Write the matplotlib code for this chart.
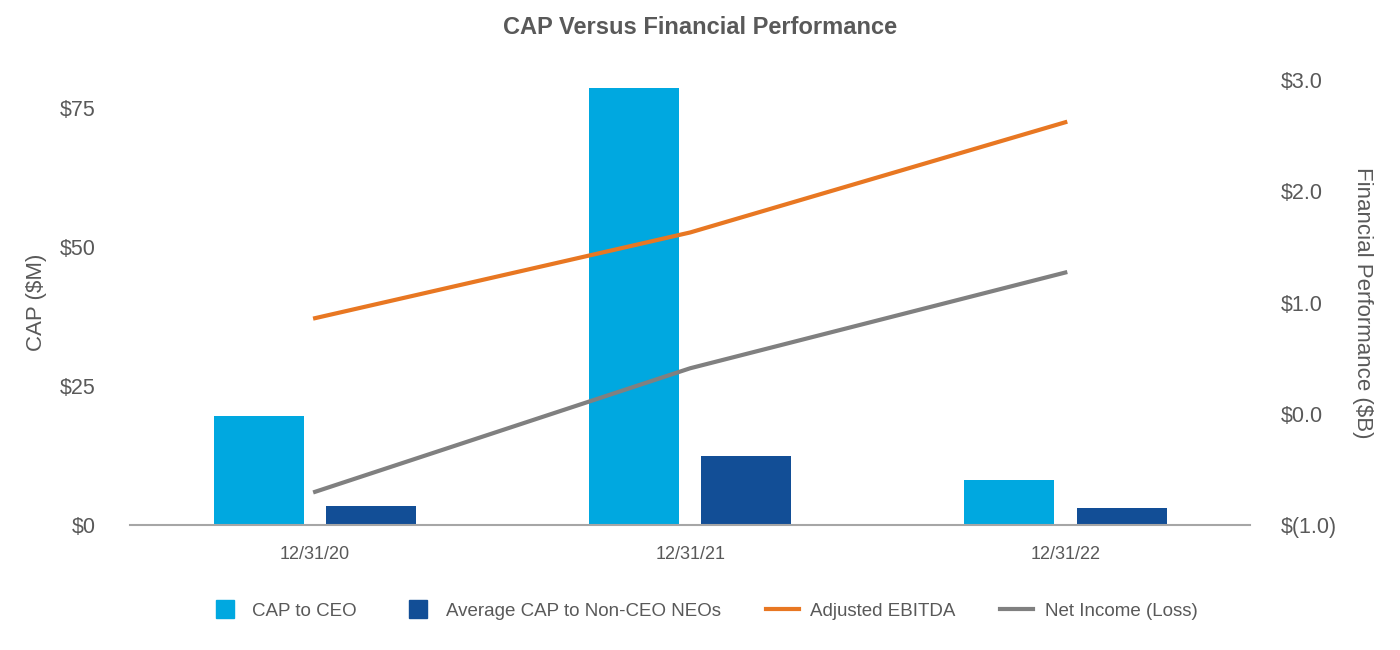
import matplotlib.pyplot as plt
from matplotlib.lines import Line2D
import numpy as np

# data
dates = ["12/31/20", "12/31/21", "12/31/22"]
cap_ceo = [19.6, 78.6, 8.1]
cap_neo = [3.4, 12.4, 3.1]
adj_ebitda = [0.86, 1.63, 2.62]
net_income = [-0.70, 0.41, 1.27]

plt.rcParams["font.family"] = ["Liberation Sans", "DejaVu Sans"]
grey = "#595959"
c_ceo = "#00A8E0"
c_neo = "#124E96"
c_ebitda = "#E87722"
c_ni = "#808080"

fig = plt.figure(figsize=(14, 6.5), dpi=100)
ax = fig.add_axes([0.093, 0.192, 0.8, 0.685])
ax2 = ax.twinx()

x = np.arange(len(dates))
ax.bar(x - 0.15, cap_ceo, width=0.24, color=c_ceo, zorder=2)
ax.bar(x + 0.15, cap_neo, width=0.24, color=c_neo, zorder=2)
ax2.plot(x, adj_ebitda, color=c_ebitda, lw=3)
ax2.plot(x, net_income, color=c_ni, lw=3)

ax.set_xlim(-0.493, 2.493)
ax.set_ylim(0, 80)
ax2.set_ylim(-1, 3)
ax.set_yticks([0, 25, 50, 75])
ax.set_yticklabels(["$0", "$25", "$50", "$75"])
ax2.set_yticks([-1, 0, 1, 2, 3])
ax2.set_yticklabels(["$(1.0)", "$0.0", "$1.0", "$2.0", "$3.0"])
ax.set_xticks(x)
ax.set_xticklabels(dates)

for a in (ax, ax2):
    for s in a.spines.values():
        s.set_visible(False)
    a.tick_params(length=0, colors=grey)
ax.spines["bottom"].set_visible(True)
ax.spines["bottom"].set_color("#A6A6A6")
ax.spines["bottom"].set_linewidth(1.5)
ax.tick_params(axis="y", labelsize=15.5, pad=25)
ax2.tick_params(axis="y", labelsize=15.5, pad=22)
ax.tick_params(axis="x", labelsize=13, pad=15)

ax.set_ylabel("CAP ($M)", fontsize=16, color=grey)
ax.yaxis.set_label_coords(-0.074, 0.5)
ax2.set_ylabel("Financial Performance ($B)", fontsize=16, color=grey, rotation=270, va="center")
ax2.yaxis.set_label_coords(1.1, 0.5)

fig.suptitle("CAP Versus Financial Performance", fontsize=17, fontweight="bold", color=grey, y=0.975)

handles = [
    Line2D([], [], marker="s", ls="none", color=c_ceo, markersize=13),
    Line2D([], [], marker="s", ls="none", color=c_neo, markersize=13),
    Line2D([], [], color=c_ebitda, lw=3),
    Line2D([], [], color=c_ni, lw=3),
]
labels = ["CAP to CEO", "Average CAP to Non-CEO NEOs", "Adjusted EBITDA", "Net Income (Loss)"]
fig.legend(handles, labels, loc="center", bbox_to_anchor=(0.502, 0.06), ncol=4,
           frameon=False, fontsize=13.5, labelcolor=grey, handlelength=1.75,
           columnspacing=2.4, handletextpad=0.6)

fig.savefig("out.png")
